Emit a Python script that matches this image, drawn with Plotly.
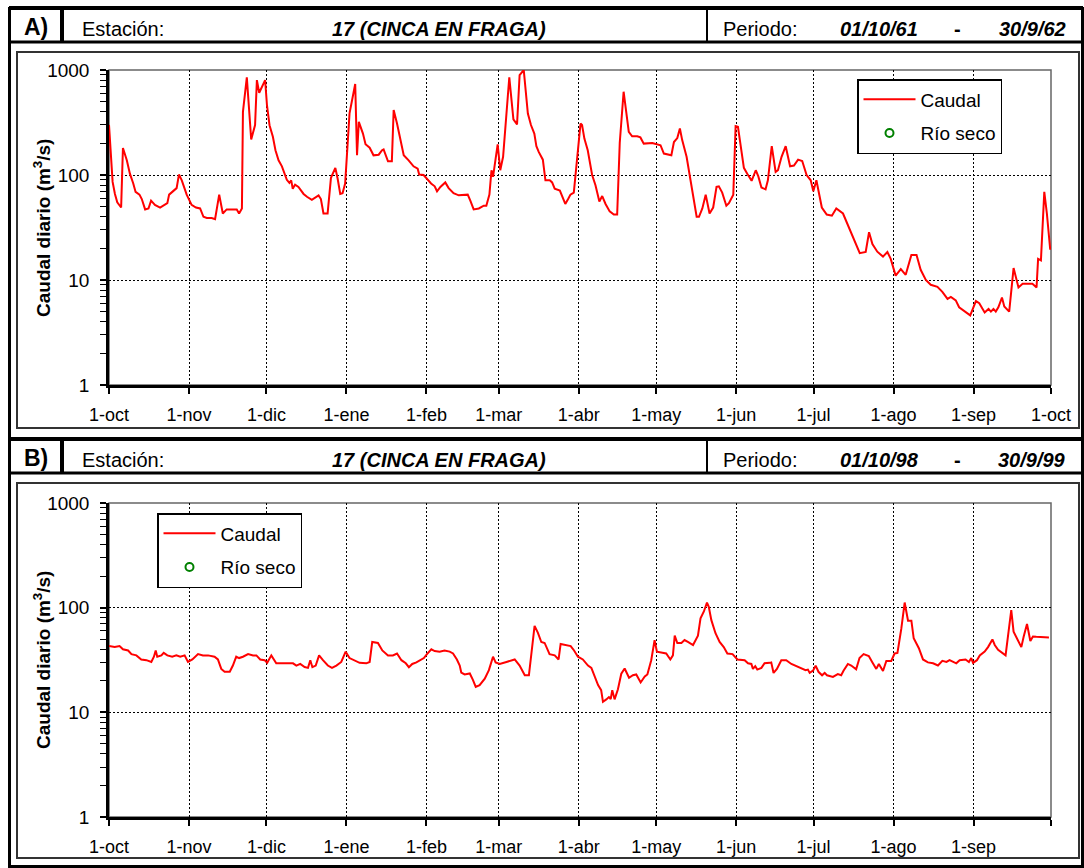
import pandas as pd
import plotly.graph_objects as go

W, H = 1084, 868
FONT = "Liberation Sans, Arial, sans-serif"

MESES = ["1-oct", "1-nov", "1-dic", "1-ene", "1-feb", "1-mar", "1-abr",
         "1-may", "1-jun", "1-jul", "1-ago", "1-sep", "1-oct"]
Y_TICKS = [1, 10, 100, 1000]

ESTACION = "17 (CINCA EN FRAGA)"

# --- A) año hidrológico 1961-62: días desde el 1-oct y caudal diario (m3/s)
A_INICIO, A_FIN = "01/10/61", "30/9/62"
A_FECHA0 = "1961-10-01"
A_DIA = [0, 1.4, 2.3, 3.2, 4.7, 5.4, 6.9, 8.1, 9.4, 10.3,
         11.8, 12.7, 14, 15.3, 16.3, 17.8, 19.8, 21, 22.6, 23.3,
         25, 26.2, 27.1, 28.2, 30.1, 32, 33.7, 35.3, 36.6, 37.9,
         39.8, 41.1, 42.7, 44.1, 45.6, 49.5, 50.4, 51.5, 51.9, 53.4,
         55.1, 56.6, 57.3, 58.2, 60.5, 61.2, 62.2, 63.5, 64.5, 65.7,
         67, 68, 68.9, 69.9, 70.6, 71.2, 72.1, 73.4, 75.4, 76.7,
         78.6, 81.2, 82.1, 83.1, 84.7, 86, 87.7, 88.6, 89.6, 90.5,
         91.5, 93.2, 95.4, 96.1, 96.8, 98.4, 99.4, 101, 102.5, 104.5,
         105.8, 106.4, 108.1, 109.6, 110.3, 111.6, 112.9, 114.2, 116.1, 118,
         119.6, 120.2, 121.9, 123.2, 124.8, 126.2, 127.1, 128.4, 130.3, 131.6,
         133.5, 135.5, 137.4, 139, 140, 141.3, 143.3, 145.2, 146.2, 147.4,
         148.2, 148.8, 150.6, 151.6, 152.7, 155.1, 156.7, 158.1, 159.1, 160.7,
         162.3, 163.5, 164.8, 165.6, 166.5, 168.1, 169.1, 170.8, 171.7, 172.7,
         174.7, 176.8, 177.9, 178.8, 180.1, 182.7, 183.3, 184.2, 185.5, 187.2,
         188.5, 190, 191.1, 192.4, 194, 195.6, 196.9, 197.9, 199.4, 201.4,
         202.7, 204.7, 205.9, 207.2, 210.5, 212.2, 213.7, 215, 217.9, 218.9,
         220.2, 221.2, 222.1, 223.8, 225.7, 227.7, 228.6, 229.9, 231.2, 232.7,
         234.1, 235.4, 236.3, 237.6, 239.2, 240.2, 241.9, 242.8, 243.7, 246,
         247.3, 249, 250.6, 251.6, 252.8, 254.4, 255.3, 256.8, 258.3, 259.2,
         260.6, 262.2, 263.9, 265.4, 267, 268.6, 270.3, 271.9, 272.9, 274.1,
         276.2, 278.1, 280.1, 281.8, 284.4, 286.1, 288.4, 290.9, 293.2, 294.5,
         295.8, 297.7, 299.9, 301.6, 302.9, 304.8, 306.8, 308.7, 310.9, 312.9,
         314.5, 316.5, 318.4, 321, 322.9, 324.9, 326.2, 328.1, 329.4, 332,
         333.7, 335.9, 337.2, 339.3, 340.8, 341.7, 342.7, 343.6, 344.6, 346,
         346.9, 348.8, 350.5, 352.4, 354, 357.8, 359.4, 360, 361.1, 362.4,
         363.4, 364.7]
A_CAUDAL = [300, 86, 66, 55, 49, 181, 138, 103, 83, 69,
            65, 59, 47, 48, 57, 52, 49, 51, 54, 65,
            70, 75, 101, 89, 65, 52, 49, 48, 40, 39,
            39, 38, 65, 43, 47, 47, 43, 48, 400, 851,
            218, 299, 802, 607, 802, 464, 298, 231, 172, 138,
            121, 103, 90, 84, 89, 74, 81, 77, 66, 62,
            58, 64, 59, 43, 43, 94, 117, 92, 66, 67,
            83, 386, 735, 154, 321, 248, 196, 182, 154, 156,
            172, 175, 135, 135, 415, 309, 222, 154, 138, 121,
            115, 101, 100, 92, 83, 78, 70, 77, 85, 75,
            67, 64, 65, 65, 57, 47, 48, 51, 51, 65,
            111, 96, 196, 111, 149, 851, 338, 303, 896, 1000,
            385, 299, 248, 188, 166, 140, 89, 89, 85, 74,
            71, 53, 59, 65, 68, 309, 299, 222, 172, 100,
            80, 56, 63, 53, 45, 42, 42, 202, 621, 258,
            234, 234, 228, 199, 202, 196, 192, 160, 154, 206,
            225, 277, 215, 149, 80, 40, 40, 48, 65, 43,
            49, 77, 78, 68, 51, 54, 65, 292, 288, 117,
            103, 88, 111, 97, 76, 73, 89, 188, 107, 111,
            149, 188, 121, 123, 140, 136, 100, 89, 70, 89,
            49, 42, 41, 48, 43, 34, 25, 18, 18.5, 28.5,
            22, 18.6, 16.7, 18.5, 15.9, 11, 12.7, 11.2, 17.3, 17.3,
            12.5, 10, 9, 8.6, 7.7, 6.6, 6.9, 6.4, 5.5, 4.9,
            4.6, 6.3, 6.0, 4.9, 5.3, 5.0, 5.3, 5.0, 5.5, 6.8,
            5.6, 5.0, 13, 8.5, 9.2, 9.2, 8.5, 15.9, 15.4, 69,
            43, 19.4]

# --- B) año hidrológico 1998-99
B_INICIO, B_FIN = "01/10/98", "30/9/99"
B_FECHA0 = "1998-10-01"
B_DIA = [0, 2.2, 4.1, 5.4, 7.4, 8.7, 10.6, 12.5, 14.5, 16.4,
         17.4, 18.1, 18.7, 20.3, 21.2, 22.6, 24.5, 26.1, 27.6, 29.3,
         30.6, 32.3, 34.5, 36.4, 38.4, 40.9, 42.2, 43.5, 44.8, 46.8,
         48, 49.3, 50.4, 51.9, 53.9, 55.8, 57.1, 58.6, 60.3, 61.3,
         62.9, 64.8, 67.4, 71.3, 72.6, 74.1, 75.8, 77.1, 78, 78.8,
         80.1, 81.4, 82.9, 84.8, 86.4, 88.1, 90, 91.7, 93.2, 95.2,
         97.1, 99.7, 101, 102, 104.2, 105.9, 108.1, 110, 111.6, 113.3,
         115, 116.2, 117.5, 119.1, 120.4, 122, 123.2, 124.9, 126.2, 128.1,
         130, 132, 133.3, 134.8, 135.9, 136.5, 137.8, 139.8, 141, 142.1,
         143.6, 145.6, 147.2, 148.8, 149.8, 151.4, 154, 157.2, 159.1, 161.1,
         162.7, 164.9, 166.2, 167.5, 168.8, 170.7, 172.7, 174.2, 175, 176.5,
         178.9, 180.2, 181.7, 183.6, 185.6, 186.9, 188.2, 189.5, 190.7, 191.4,
         192.7, 193.7, 194.4, 195, 195.9, 197.2, 198.5, 199.8, 201.5, 203,
         204.3, 206, 207.6, 208.6, 210.1, 211.4, 212.3, 214, 215.9, 217.5,
         218.5, 219.2, 220.2, 221.8, 223, 224.3, 226.3, 228.2, 229.2, 230.5,
         231.7, 232.4, 233.4, 235, 236.6, 238.2, 239.6, 241.6, 243.5, 246.3,
         247.6, 248.9, 249.5, 250.4, 251.2, 252.8, 254, 256, 256.6, 257.5,
         258.8, 260.5, 262.4, 264.4, 266.3, 268.3, 269.9, 270.8, 271.5, 272.8,
         273.8, 274.9, 276.3, 277.3, 278.2, 280.5, 282.4, 283.7, 284.6, 286.3,
         287.6, 289.5, 290.8, 292.4, 294.4, 295.7, 297.3, 298.3, 299.9, 301.2,
         303.1, 304.4, 305.5, 307, 308.3, 309.6, 310.9, 311.8, 313.8, 315.4,
         317.3, 319.3, 321.2, 322.9, 324.5, 325.7, 327, 328.3, 329.6, 331.9,
         333.2, 334.1, 334.8, 336.3, 337.4, 339.3, 340.6, 342.3, 343.2, 344.5,
         347.4, 348.3, 349.6, 350.5, 351.9, 353.5, 354.4, 355.7, 357, 358,
         359.3, 364.2]
B_CAUDAL = [43, 42, 43, 40, 39, 36, 35, 32, 31.5, 30.3,
            34, 39, 34, 35, 37, 35, 34, 35, 34, 35,
            30.3, 32, 36, 35, 35, 34, 32, 26, 24.4, 24.4,
            28, 34, 33, 34, 36, 35, 35, 32, 31.5, 29.7,
            35, 29.4, 29.4, 29.4, 27.9, 29, 27.1, 26.6, 31.5, 27,
            28, 35, 31.5, 28, 26.6, 28, 30.3, 38, 33, 31,
            29.7, 29.4, 30.3, 47, 46, 39, 35, 35, 36.5, 31.5,
            29.4, 27, 29, 30, 31.5, 33, 36, 40, 38.5, 38,
            39, 38, 36.5, 32, 28, 24, 23, 23.5, 20.4, 17.5,
            18.2, 21, 25.3, 34, 30, 29, 30.3, 32, 28, 22.6,
            22.6, 67, 57.5, 47, 46, 36, 35, 32, 45, 44,
            43, 39, 34, 32, 28, 26.6, 21.8, 18.2, 16.3, 12.6,
            13.3, 14, 13.4, 16.3, 13.3, 16.6, 23.4, 26.2, 21.4, 22.6,
            23, 19.3, 22, 23, 31.5, 49, 38, 37, 36.5, 32,
            35, 54, 46, 46, 49, 47, 44, 54, 79, 92,
            112, 102, 76, 57, 47, 42, 36.5, 36, 32, 31.5,
            29.4, 29, 26, 27.6, 25.6, 26.6, 29.4, 29.7, 30, 23.8,
            26, 31.5, 31.5, 29, 27.6, 26, 25.3, 25.6, 23.8, 25,
            27.9, 24.4, 22.6, 23.8, 22.6, 21.8, 23.2, 22.6, 25, 29,
            28, 25.8, 33, 36, 34.5, 30.3, 26, 29, 24.8, 31,
            31, 36.5, 37, 63, 112, 75, 75, 51, 41, 32,
            30, 29.4, 28, 31, 30.3, 31.5, 30.3, 29.4, 31.5, 32,
            30.3, 33, 29.7, 31.5, 35, 38, 42, 49.7, 44, 39.5,
            35, 52.7, 95, 59, 50, 42, 52.7, 70, 48, 53,
            52.7, 52]

# ningún día de río seco en estos dos años (solo entrada de leyenda)
RIO_SECO_A = [None]
RIO_SECO_B = [None]


def px(x):
    return x / W


def py(y):
    return 1 - y / H


def fechas(inicio, dias):
    return pd.Timestamp(inicio) + pd.to_timedelta(dias, unit="D")


fig = go.Figure()

for k, (f0, dias, q, seco) in enumerate([(A_FECHA0, A_DIA, A_CAUDAL, RIO_SECO_A),
                                        (B_FECHA0, B_DIA, B_CAUDAL, RIO_SECO_B)]):
    xa = "x" if k == 0 else "x2"
    ya = "y" if k == 0 else "y2"
    lg = "legend" if k == 0 else "legend2"
    fig.add_trace(go.Scatter(
        x=fechas(f0, dias), y=q, mode="lines", name="Caudal", legendgroup="caudal",
        line=dict(color="#ff0000", width=2), xaxis=xa, yaxis=ya, legend=lg))
    fig.add_trace(go.Scatter(
        x=seco, y=seco, mode="markers", name="Río seco", legendgroup="seco",
        marker=dict(symbol="circle-open", color="#008000", size=8, line=dict(width=2)),
        xaxis=xa, yaxis=ya, legend=lg))


def x_axis(f0, domain, labels, anchor):
    ticks = pd.date_range(f0, periods=13, freq="MS")
    return dict(domain=domain, anchor=anchor, type="date",
                range=[ticks[0], ticks[-1]],
                tickmode="array", tickvals=list(ticks), ticktext=labels,
                ticks="outside", ticklen=6, tickwidth=1.5, tickcolor="black",
                showline=True, linecolor="black", linewidth=2.5,
                showgrid=True, gridcolor="black", gridwidth=1, griddash="2px,2px",
                zeroline=False, tickfont=dict(size=18, color="black"),
                ticklabelstandoff=6, automargin=False)


def y_axis(domain, anchor):
    minor_vals = [m * 10 ** e for e in range(3) for m in range(2, 10)]
    return dict(domain=domain, anchor=anchor, type="log", range=[0, 3],
                tickmode="array", tickvals=Y_TICKS, ticktext=[str(v) for v in Y_TICKS],
                ticks="outside", ticklen=6, tickwidth=1.5, tickcolor="black",
                minor=dict(tickmode="array", tickvals=minor_vals, ticks="outside",
                           ticklen=6, tickwidth=1, tickcolor="black", showgrid=False),
                showline=True, linecolor="black", linewidth=2.5,
                showgrid=True, gridcolor="black", gridwidth=1, griddash="2px,2px",
                zeroline=False, tickfont=dict(size=19, color="black"),
                ticklabelstandoff=7, automargin=False)


labels_b = MESES[:-1] + [" "]

shapes = []


def seg(x0, y0, x1, y1, w, color="black"):
    shapes.append(dict(type="line", xref="paper", yref="paper",
                       x0=px(x0), y0=py(y0), x1=px(x1), y1=py(y1),
                       line=dict(color=color, width=w)))


def caja(x0, y0, x1, y1, w, color="black"):
    shapes.append(dict(type="rect", xref="paper", yref="paper",
                       x0=px(x0), y0=py(y0), x1=px(x1), y1=py(y1),
                       line=dict(color=color, width=w)))


# marco exterior
caja(9.5, 8.5, 1082.5, 866.5, 3)

annotations = []


def texto(t, x, y, size=20, anchor="left", bold=False, italic=False):
    if bold:
        t = f"<b>{t}</b>"
    if italic:
        t = f"<i>{t}</i>"
    annotations.append(dict(text=t, x=px(x), y=py(y), xref="paper", yref="paper",
                            xanchor=anchor, yanchor="middle", showarrow=False,
                            font=dict(size=size, color="black", family=FONT)))


for k, (letra, ini, fin) in enumerate([("A)", A_INICIO, A_FIN), ("B)", B_INICIO, B_FIN)]):
    dy = 0 if k == 0 else 431
    # cabecera
    seg(9, 8 + dy, 1083, 8 + dy, 4)
    seg(9, 42 + dy, 1083, 42 + dy, 3)
    seg(62, 8 + dy, 62, 42 + dy, 4)
    seg(707, 8 + dy, 707, 42 + dy, 2)
    texto(letra, 36, 27 + dy, size=23, anchor="center", bold=True)
    texto("Estación:", 80, 29 + dy)
    texto(ESTACION, 439, 29 + dy, anchor="center", bold=True, italic=True)
    texto("Periodo:", 721, 29 + dy)
    texto(ini, 879, 29 + dy, anchor="center", bold=True, italic=True)
    texto("-", 957, 29 + dy, anchor="center", bold=True)
    texto(fin, 1068, 29 + dy, anchor="right", bold=True, italic=True)
    # recuadro del gráfico
    caja(17, 52 + dy, 1079, 428 + dy if k == 0 else 858, 2, "#333333")

# borde gris del área de trazado
for xa, ya in [("x", "y"), ("x2", "y2")]:
    shapes.append(dict(type="rect", xref=f"{xa} domain", yref=f"{ya} domain",
                       x0=0, y0=0, x1=1, y1=1, layer="below",
                       line=dict(color="#666666", width=1.5)))

texto("Caudal diario (m<sup>3</sup>/s)", 42, 228, size=19, anchor="center", bold=True)
annotations[-1]["textangle"] = -90
texto("Caudal diario (m<sup>3</sup>/s)", 42, 660, size=19, anchor="center", bold=True)
annotations[-1]["textangle"] = -90

legend_style = dict(xanchor="left", yanchor="top", bgcolor="white",
                    bordercolor="black", borderwidth=1.5, itemwidth=52,
                    tracegroupgap=6,
                    font=dict(size=19, color="black", family=FONT))

fig.update_layout(
    width=W, height=H, autosize=False,
    margin=dict(l=0, r=0, t=0, b=0, pad=0, autoexpand=False),
    paper_bgcolor="white", plot_bgcolor="white",
    font=dict(family=FONT, color="black"),
    xaxis=x_axis(A_FECHA0, [px(109), px(1051)], MESES, "y"),
    yaxis=y_axis([py(385), py(70)], "x"),
    xaxis2=x_axis(B_FECHA0, [px(109), px(1051)], labels_b, "y2"),
    yaxis2=y_axis([py(817), py(503)], "x2"),
    legend=dict(x=px(857), y=py(79), **legend_style),
    legend2=dict(x=px(157), y=py(513), **legend_style),
    shapes=shapes, annotations=annotations,
    hovermode=False,
)

fig.write_html("out.html", config={"displayModeBar": False},
               post_script="document.body.style.margin='0';")
